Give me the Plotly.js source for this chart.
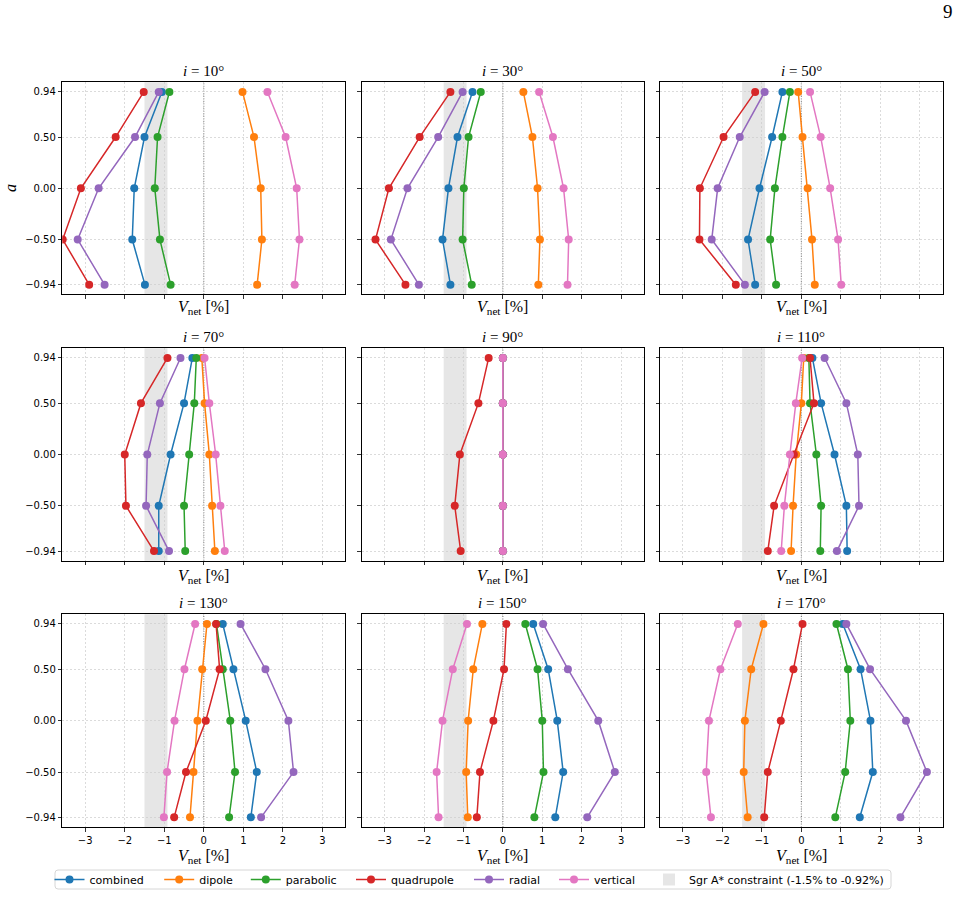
<!DOCTYPE html>
<html>
<head>
<meta charset="utf-8">
<script src="https://cdn.plot.ly/plotly-3.0.1.min.js"></script>
<style>html,body{margin:0;padding:0;background:#fff;}#chart{width:960px;height:897px;}</style>
</head>
<body>
<div id="chart"></div>
<script>
// ---- data ----
const aValues = [0.94, 0.50, 0.00, -0.50, -0.94];
const aLabels = ["0.94", "0.50", "0.00", "\u22120.50", "\u22120.94"];
const inclinations = [10, 30, 50, 70, 90, 110, 130, 150, 170];
const xTickVals = [-3, -2, -1, 0, 1, 2, 3];
const xTickText = ["\u22123", "\u22122", "\u22121", "0", "1", "2", "3"];
const constraint = [-1.5, -0.92];
const constraintLabel = "Sgr A* constraint (-1.5% to -0.92%)";

// V_net [%] per inclination, values ordered by aValues
const combined = [
  [-1.06, -1.50, -1.76, -1.81, -1.49],
  [-0.77, -1.15, -1.38, -1.53, -1.33],
  [-0.48, -0.74, -1.06, -1.35, -1.17],
  [-0.29, -0.50, -0.84, -1.14, -1.14],
  [0, 0, 0, 0, 0],
  [0.28, 0.50, 0.84, 1.14, 1.16],
  [0.48, 0.75, 1.06, 1.34, 1.19],
  [0.77, 1.15, 1.38, 1.53, 1.33],
  [1.05, 1.50, 1.75, 1.81, 1.48]
];
const dipole = [
  [0.98, 1.27, 1.44, 1.47, 1.35],
  [0.52, 0.75, 0.88, 0.94, 0.90],
  [-0.08, 0.03, 0.16, 0.27, 0.34],
  [-0.05, 0.02, 0.14, 0.21, 0.28],
  [0, 0, 0, 0, 0],
  [0.06, 0.00, -0.13, -0.21, -0.26],
  [0.08, -0.04, -0.16, -0.26, -0.35],
  [-0.52, -0.75, -0.88, -0.93, -0.89],
  [-0.96, -1.27, -1.43, -1.46, -1.36]
];
const parabolic = [
  [-0.87, -1.17, -1.24, -1.11, -0.84],
  [-0.56, -0.87, -0.99, -1.02, -0.79],
  [-0.29, -0.48, -0.67, -0.79, -0.64],
  [-0.19, -0.24, -0.37, -0.50, -0.47],
  [0, 0, 0, 0, 0],
  [0.19, 0.22, 0.38, 0.50, 0.48],
  [0.32, 0.48, 0.67, 0.79, 0.64],
  [0.57, 0.88, 1.00, 1.03, 0.80],
  [0.89, 1.18, 1.24, 1.11, 0.86]
];
const quadrupole = [
  [-1.52, -2.23, -3.11, -3.57, -2.90],
  [-1.33, -2.11, -2.89, -3.23, -2.47],
  [-1.17, -1.97, -2.57, -2.58, -1.66],
  [-0.92, -1.59, -2.00, -1.97, -1.26],
  [-0.36, -0.62, -1.09, -1.22, -1.07],
  [0.22, 0.32, -0.19, -0.69, -0.85],
  [0.31, 0.40, 0.05, -0.45, -0.75],
  [0.09, 0.03, -0.24, -0.58, -0.66],
  [0.03, -0.20, -0.52, -0.85, -0.94]
];
const radial = [
  [-1.14, -1.74, -2.66, -3.19, -2.51],
  [-1.02, -1.64, -2.42, -2.84, -2.13],
  [-0.93, -1.56, -2.12, -2.27, -1.43],
  [-0.59, -1.11, -1.43, -1.46, -0.88],
  [0, 0, 0, 0, 0],
  [0.59, 1.14, 1.43, 1.46, 0.90],
  [0.93, 1.56, 2.14, 2.27, 1.45],
  [1.02, 1.65, 2.42, 2.84, 2.14],
  [1.14, 1.74, 2.65, 3.18, 2.51]
];
const vertical = [
  [1.61, 2.07, 2.35, 2.42, 2.30],
  [0.92, 1.27, 1.54, 1.67, 1.64],
  [0.22, 0.49, 0.73, 0.93, 1.01],
  [0.02, 0.14, 0.30, 0.42, 0.53],
  [0, 0, 0, 0, 0],
  [0.02, -0.14, -0.29, -0.43, -0.51],
  [-0.22, -0.49, -0.74, -0.93, -1.01],
  [-0.91, -1.27, -1.53, -1.68, -1.63],
  [-1.61, -2.05, -2.34, -2.41, -2.29]
];

const modelNames = ["combined", "dipole", "parabolic", "quadrupole", "radial", "vertical"];
const modelData = [combined, dipole, parabolic, quadrupole, radial, vertical];
const modelColors = ["#1f77b4", "#ff7f0e", "#2ca02c", "#d62728", "#9467bd", "#e377c2"];

// ---- layout geometry (pixels) ----
const W = 960, H = 897;
const colPx = [[62.3, 345.3], [361.7, 644.0], [660.0, 942.7]];
const rowPx = [[82.3, 294.3], [348.3, 560.7], [614.3, 827.0]];
const xRange = [-3.58, 3.58];
const yRange = [-1.034, 1.034];
// legend entry origins (px): models..., then constraint band
const legendOrigins = [49.5, 159.2, 245.8, 351, 469, 554, 649];
const legendBox = {x0: 55, x1: 891, y0: 870, y1: 889};

const serif = "Liberation Serif, DejaVu Serif, serif";
const sans = "DejaVu Sans, sans-serif";

const traces = [];
const layout = {
  width: W, height: H,
  margin: {l: 0, r: 0, t: 0, b: 0},
  paper_bgcolor: "#ffffff",
  plot_bgcolor: "#ffffff",
  font: {family: sans, size: 10, color: "#000"},
  showlegend: true,
  shapes: [],
  annotations: []
};

legendOrigins.forEach((ox, k) => {
  const key = k === 0 ? "legend" : "legend" + (k + 1);
  layout[key] = {
    orientation: "h",
    x: ox / W, xanchor: "left",
    y: 1 - (legendBox.y0 + legendBox.y1) / 2 / H, yanchor: "middle",
    bgcolor: "rgba(0,0,0,0)", borderwidth: 0,
    font: {family: sans, size: 11, color: "#000"},
    itemwidth: 30
  };
});

// legend frame
(function () {
  const b = legendBox, rr = 3;
  const X0 = b.x0 / W, X1 = b.x1 / W, Y0 = 1 - b.y1 / H, Y1 = 1 - b.y0 / H;
  const rx = rr / W, ry = rr / H;
  layout.shapes.push({
    type: "path", xref: "paper", yref: "paper",
    path: `M${X0 + rx},${Y0} L${X1 - rx},${Y0} Q${X1},${Y0} ${X1},${Y0 + ry} L${X1},${Y1 - ry} Q${X1},${Y1} ${X1 - rx},${Y1} L${X0 + rx},${Y1} Q${X0},${Y1} ${X0},${Y1 - ry} L${X0},${Y0 + ry} Q${X0},${Y0} ${X0 + rx},${Y0} Z`,
    line: {color: "#d6d6d6", width: 1}, fillcolor: "rgba(255,255,255,0.8)", layer: "below"
  });
})();

inclinations.forEach((inc, p) => {
  const r = Math.floor(p / 3), c = p % 3;
  const ax = p === 0 ? "" : String(p + 1);
  const xa = "xaxis" + ax, ya = "yaxis" + ax;
  const xr = "x" + ax, yr = "y" + ax;

  layout[xa] = {
    domain: [colPx[c][0] / W, colPx[c][1] / W],
    range: xRange, anchor: yr,
    tickmode: "array", tickvals: xTickVals, ticktext: xTickText,
    showticklabels: r === 2,
    ticks: "outside", ticklen: 3.5, tickwidth: 0.8, tickcolor: "#000",
    tickfont: {family: sans, size: 10, color: "#000"},
    showline: true, mirror: true, linecolor: "#000", linewidth: 1,
    showgrid: true, gridcolor: "#cccccc", griddash: "2px,2px", gridwidth: 0.7,
    zeroline: false, fixedrange: true
  };
  layout[ya] = {
    domain: [1 - rowPx[r][1] / H, 1 - rowPx[r][0] / H],
    range: yRange, anchor: xr,
    tickmode: "array", tickvals: aValues, ticktext: aLabels,
    showticklabels: c === 0,
    ticks: "outside", ticklen: 3.5, tickwidth: 0.8, tickcolor: "#000",
    tickfont: {family: sans, size: 10, color: "#000"},
    showline: true, mirror: true, linecolor: "#000", linewidth: 1,
    showgrid: true, gridcolor: "#cccccc", griddash: "2px,2px", gridwidth: 0.7,
    zeroline: false, fixedrange: true
  };

  // constraint band
  const band = {
    type: "rect", xref: xr, yref: yr + " domain",
    x0: constraint[0], x1: constraint[1], y0: 0, y1: 1,
    fillcolor: "rgba(128,128,128,0.2)", line: {width: 0}, layer: "below"
  };
  if (p === 0) { band.showlegend = true; band.name = constraintLabel; band.legend = "legend7"; }
  layout.shapes.push(band);
  // dotted zero line
  layout.shapes.push({
    type: "line", xref: xr, yref: yr + " domain",
    x0: 0, x1: 0, y0: 0, y1: 1,
    line: {color: "#444", width: 0.8, dash: "1px,1.5px"}, layer: "below"
  });

  modelNames.forEach((name, m) => {
    traces.push({
      type: "scatter", mode: "lines+markers",
      x: modelData[m][p], y: aValues,
      xaxis: xr, yaxis: yr,
      name: name, legendgroup: name, showlegend: p === 0,
      legend: m === 0 ? "legend" : "legend" + (m + 1),
      line: {color: modelColors[m], width: 1.5},
      marker: {color: modelColors[m], size: 8},
      hoverinfo: "skip"
    });
  });

  // panel title
  layout.annotations.push({
    xref: xr + " domain", yref: yr + " domain", x: 0.5, y: 1,
    xanchor: "center", yanchor: "bottom", yshift: 1,
    text: "<i>i</i> = " + inc + "\u00b0", showarrow: false,
    font: {family: serif, size: 15, color: "#000"}
  });
  // x axis title
  const titleY = [308, 576.7, 856.7][r];
  layout.annotations.push({
    xref: xr + " domain", yref: "paper", x: 0.5, y: 1 - titleY / H,
    xanchor: "center", yanchor: "middle",
    text: "<i>V</i><sub>net</sub> [%]", showarrow: false,
    font: {family: serif, size: 16, color: "#000"}
  });
});

// y axis title
layout.annotations.push({
  xref: "paper", yref: "paper", x: 10 / W, y: 1 - 188 / H,
  xanchor: "center", yanchor: "middle", textangle: -90,
  text: "<i>a</i>", showarrow: false,
  font: {family: serif, size: 16, color: "#000"}
});
// page number
layout.annotations.push({
  xref: "paper", yref: "paper", x: 948 / W, y: 1 - 12 / H,
  xanchor: "center", yanchor: "middle",
  text: "9", showarrow: false,
  font: {family: serif, size: 19, color: "#000"}
});

Plotly.newPlot("chart", traces, layout, {staticPlot: true, displayModeBar: false});
</script>
</body>
</html>
